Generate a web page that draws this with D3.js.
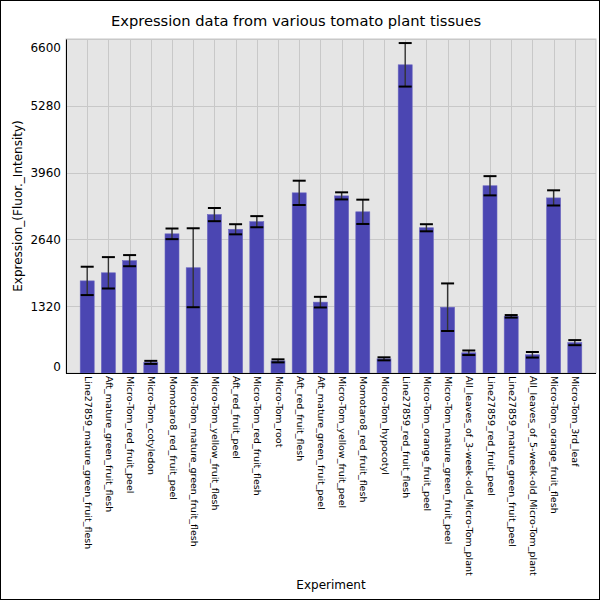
<!DOCTYPE html>
<meta charset="utf-8">
<title>Expression data from various tomato plant tissues</title>
<style>
body {
  margin: 0;
}
svg {
  font-family: "DejaVu Sans", sans-serif;
}
</style>
<body>
<script src="https://d3js.org/d3.v7.min.js"></script>
<script>
var experiments = [
  "Line27859_mature_green_fruit_flesh",
  "Aft_mature_green_fruit_flesh",
  "Micro-Tom_red_fruit_peel",
  "Micro-Tom_cotyledon",
  "Momotaro8_red_fruit_peel",
  "Micro-Tom_mature_green_fruit_flesh",
  "Micro-Tom_yellow_fruit_flesh",
  "Aft_red_fruit_peel",
  "Micro-Tom_red_fruit_flesh",
  "Micro-Tom_root",
  "Aft_red_fruit_flesh",
  "Aft_mature_green_fruit_peel",
  "Micro-Tom_yellow_fruit_peel",
  "Momotaro8_red_fruit_flesh",
  "Micro-Tom_hypocotyl",
  "Line27859_red_fruit_flesh",
  "Micro-Tom_orange_fruit_peel",
  "Micro-Tom_mature_green_fruit_peel",
  "All_leaves_of_3-week-old_Micro-Tom_plant",
  "Line27859_red_fruit_peel",
  "Line27859_mature_green_fruit_peel",
  "All_leaves_of_5-week-old_Micro-Tom_plant",
  "Micro-Tom_orange_fruit_flesh",
  "Micro-Tom_3rd_leaf"
];
var means = [1820, 1980, 2220, 210, 2750, 2080, 3130, 2840, 2990, 240, 3560, 1400,
             3500, 3185, 280, 6090, 2870, 1300, 400, 3700, 1120, 360, 3460, 600];
var errors = [280, 310, 110, 30, 105, 780, 130, 100, 110, 30, 240, 105,
              70, 240, 30, 430, 70, 470, 45, 190, 25, 55, 150, 50];
var yTicks = [0, 1320, 2640, 3960, 5280, 6600];

var w = 600,
    h = 600,
    pLeft = 66,
    pRight = 596,
    pTop = 39,
    pBottom = 373;

var svg = d3.select("body").append("svg")
    .attr("width", w)
    .attr("height", h);

svg.append("rect")
    .attr("x", 0.5).attr("y", 0.5)
    .attr("width", w - 1).attr("height", h - 1)
    .attr("fill", "#fff")
    .attr("stroke", "#000");

var x = d3.scalePoint()
    .domain(experiments)
    .range([pLeft, pRight])
    .padding(1);
var y = d3.scaleLinear()
    .domain([0, 6600])
    .range([pBottom, pTop]);
var barW = 14;

// plot background and grid
svg.append("rect")
    .attr("x", pLeft).attr("y", pTop)
    .attr("width", pRight - pLeft).attr("height", pBottom - pTop)
    .attr("fill", "#e5e5e5")
    .attr("stroke", "#c8c8c8");

svg.append("g")
    .selectAll("line")
    .data(yTicks.slice(1))
  .enter().append("line")
    .attr("x1", pLeft).attr("x2", pRight)
    .attr("y1", function(d) { return Math.round(y(d)) + 0.5; })
    .attr("y2", function(d) { return Math.round(y(d)) + 0.5; })
    .attr("stroke", "#c8c8c8");

svg.append("g")
    .selectAll("line")
    .data(experiments)
  .enter().append("line")
    .attr("x1", function(d) { return Math.round(x(d)) + 0.5; })
    .attr("x2", function(d) { return Math.round(x(d)) + 0.5; })
    .attr("y1", pTop).attr("y2", pBottom)
    .attr("stroke", "#c8c8c8");

// bars
svg.append("g")
    .selectAll("rect")
    .data(means)
  .enter().append("rect")
    .attr("x", function(d, i) { return x(experiments[i]) - barW / 2; })
    .attr("y", function(d) { return y(d); })
    .attr("width", barW)
    .attr("height", function(d) { return pBottom - y(d); })
    .attr("fill", "#4b46b2")
    .attr("stroke", "#6a66c0")
    .attr("stroke-width", 0.6);

// error bars
var eb = svg.append("g")
    .selectAll("g")
    .data(means)
  .enter().append("g");
eb.append("line")
    .attr("x1", function(d, i) { return x(experiments[i]); })
    .attr("x2", function(d, i) { return x(experiments[i]); })
    .attr("y1", function(d, i) { return y(d + errors[i]); })
    .attr("y2", function(d, i) { return y(d - errors[i]); })
    .attr("stroke", "#333")
    .attr("stroke-width", 1.4);
eb.selectAll(".cap")
    .data(function(d, i) { return [[i, d + errors[i]], [i, d - errors[i]]]; })
  .enter().append("line")
    .attr("class", "cap")
    .attr("x1", function(d) { return x(experiments[d[0]]) - 6.5; })
    .attr("x2", function(d) { return x(experiments[d[0]]) + 6.5; })
    .attr("y1", function(d) { return y(d[1]); })
    .attr("y2", function(d) { return y(d[1]); })
    .attr("stroke", "#000")
    .attr("stroke-width", 2);

// axes
var yAxis = svg.append("g")
    .attr("transform", "translate(" + pLeft + ",0)")
    .call(d3.axisLeft(y).tickValues(yTicks).tickFormat(d3.format("d")).tickSize(0).tickPadding(5));
yAxis.select(".domain").attr("stroke", "#000");
yAxis.selectAll("text")
    .attr("font-size", 12)
    .attr("font-family", "DejaVu Sans")
    .attr("fill", "#000")
    .attr("dy", function(d) { return d === 6600 ? "1em" : d === 0 ? "-0.2em" : "0.32em"; });

var xAxis = svg.append("g")
    .attr("transform", "translate(0," + pBottom + ")")
    .call(d3.axisBottom(x).tickSize(0).tickPadding(0));
xAxis.select(".domain").attr("stroke", "#000").attr("d", "M" + pLeft + ",0.5H" + pRight);
xAxis.selectAll("text")
    .attr("font-size", 9.5)
    .attr("font-family", "DejaVu Sans")
    .attr("fill", "#000")
    .attr("text-anchor", "start")
    .attr("transform", "translate(-3,3) rotate(90)")
    .attr("x", 0).attr("y", 0)
    .attr("dy", 0);

// titles
svg.append("text")
    .attr("x", 296).attr("y", 26)
    .attr("text-anchor", "middle")
    .attr("font-size", 14.7)
    .text("Expression data from various tomato plant tissues");
svg.append("text")
    .attr("transform", "translate(22," + (pTop + pBottom) / 2 + ") rotate(-90)")
    .attr("text-anchor", "middle")
    .attr("font-size", 12)
    .text("Expression_(Fluor._Intensity)");
svg.append("text")
    .attr("x", (pLeft + pRight) / 2).attr("y", 589)
    .attr("text-anchor", "middle")
    .attr("font-size", 12)
    .text("Experiment");
</script>
